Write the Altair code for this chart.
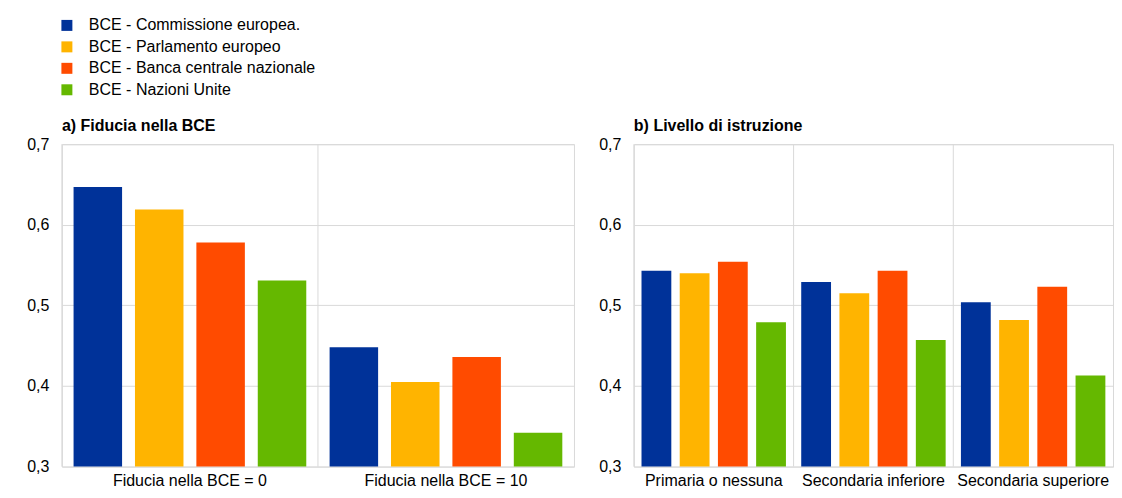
import altair as alt
import pandas as pd

series = [
    "BCE - Commissione europea.",
    "BCE - Parlamento europeo",
    "BCE - Banca centrale nazionale",
    "BCE - Nazioni Unite",
]
colors = ["#003299", "#ffb400", "#ff4b00", "#65b800"]

# Panel a) Fiducia nella BCE
groups_a = ["Fiducia nella BCE = 0", "Fiducia nella BCE = 10"]
a_commissione = [0.647, 0.448]
a_parlamento = [0.619, 0.405]
a_banca = [0.578, 0.436]
a_onu = [0.531, 0.342]

# Panel b) Livello di istruzione
groups_b = ["Primaria o nessuna", "Secondaria inferiore", "Secondaria superiore"]
b_commissione = [0.543, 0.529, 0.504]
b_parlamento = [0.540, 0.515, 0.482]
b_banca = [0.554, 0.543, 0.523]
b_onu = [0.479, 0.457, 0.413]

y_ticks = [0.3, 0.4, 0.5, 0.6, 0.7]


def long_df(groups, cols):
    rows = []
    for s, vals in zip(series, cols):
        for g, v in zip(groups, vals):
            rows.append({"gruppo": g, "serie": s, "valore": v})
    return pd.DataFrame(rows)


df_a = long_df(groups_a, [a_commissione, a_parlamento, a_banca, a_onu])
df_b = long_df(groups_b, [b_commissione, b_parlamento, b_banca, b_onu])

FONT = "Liberation Sans"
GRID = "#d9d9d9"


def panel(df, groups, title, width, pin, pout, show_legend):
    x_axis = alt.Axis(
        title=None, labelAngle=0, ticks=False, domain=False, grid=False,
        labelFontSize=16, labelPadding=6, labelColor="#000000", labelFont=FONT,
        labelLimit=300,
    )
    y_axis = alt.Axis(
        values=y_ticks, title=None, ticks=False, domain=False, grid=True,
        gridColor=GRID, labelFontSize=16, labelPadding=13,
        labelColor="#000000", labelFont=FONT,
        labelExpr="replace(format(datum.value, '.1f'), '.', ',')",
        minExtent=53, maxExtent=53,
    )
    if show_legend:
        legend = alt.Legend(
            title=None, orient="none", legendX=-3, legendY=-127,
            symbolType="square", symbolSize=121, symbolStrokeWidth=0,
            labelFontSize=16, labelFont=FONT, labelColor="#000000",
            labelOffset=14, rowPadding=5.5, padding=0, labelLimit=400,
        )
    else:
        legend = None
    xscale = alt.Scale(paddingInner=0, paddingOuter=0)
    bars = alt.Chart(df).mark_bar().encode(
        x=alt.X("gruppo:N", sort=groups, scale=xscale, axis=x_axis),
        xOffset=alt.XOffset(
            "serie:N", sort=series,
            scale=alt.Scale(paddingInner=pin, paddingOuter=pout),
        ),
        y=alt.Y("valore:Q", scale=alt.Scale(domain=[0.3, 0.7], zero=False),
                axis=y_axis),
        y2=alt.datum(0.3),
        color=alt.Color("serie:N", sort=series,
                        scale=alt.Scale(domain=series, range=colors),
                        legend=legend),
    )
    rules = alt.Chart(pd.DataFrame({"gruppo": groups})).mark_rule(
        color=GRID, strokeWidth=1
    ).encode(
        x=alt.X("gruppo:N", sort=groups, bandPosition=0, scale=xscale,
                axis=x_axis),
    )
    return alt.layer(rules, bars).properties(
        width=width, height=323,
        title=alt.TitleParams(
            title, anchor="start", frame="group", fontSize=16,
            fontWeight="bold", font=FONT, color="#000000", offset=2,
        ),
    )


chart_a = panel(df_a, groups_a, "a) Fiducia nella BCE", 513, 0.21, 0.19, True)
chart_b = panel(df_b, groups_b, "b) Livello di istruzione", 480, 0.22, 0.2, False)

chart = alt.hconcat(chart_a, chart_b, spacing=5).resolve_scale(
    color="shared", x="independent", y="independent", xOffset="independent"
).properties(
    padding={"left": 0, "top": 9, "right": 0, "bottom": 0}
).configure(font=FONT).configure_view(stroke=GRID, strokeWidth=1)

chart.save("out.html", embed_options={"renderer": "svg", "actions": False})
